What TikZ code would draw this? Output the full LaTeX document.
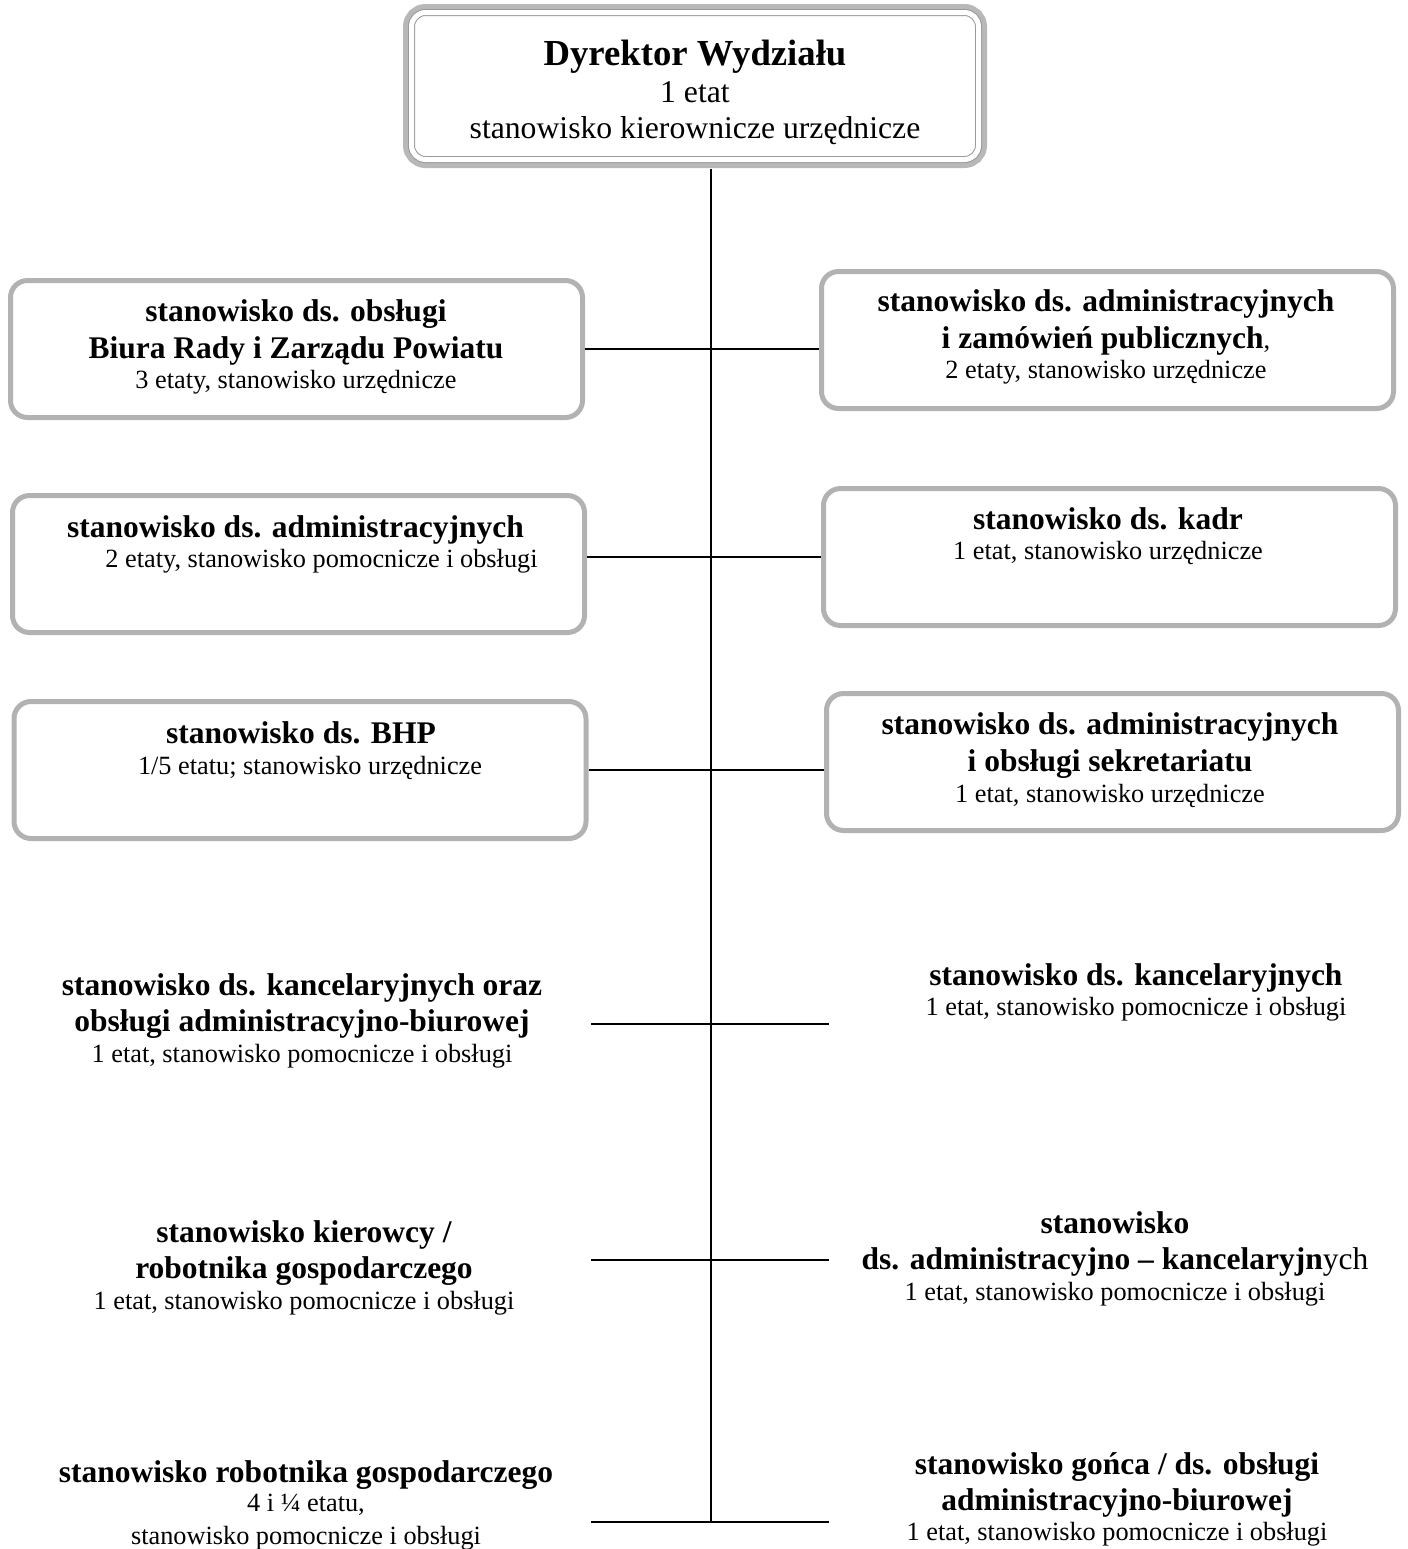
\documentclass[tikz,border=0pt]{standalone}
\usepackage{fontspec}
\setmainfont{Liberation Serif}
\usepackage{tikz}

\newcommand{\pogr}[1]{{\bfseries\fontsize{15.75}{18}\selectfont #1}}

\begin{document}
\begin{tikzpicture}[x=0.5pt, y=-0.5pt,
ramka/.style={draw=black!30, line width=2.5pt, rounded corners=8.5pt, fill=white, inner sep=0pt, minimum width=286pt, minimum height=68.5pt},
pusta/.style={inner sep=0pt, minimum width=286pt, minimum height=68.5pt},
glowna/.style={draw=black!40, line width=0.5pt, double=white, double distance=2.5pt, rounded corners=7pt, fill=white, preaction={draw=black!28, line width=8.5pt}, inner sep=0pt, minimum width=283.5pt, minimum height=73.5pt},
opis/.style={anchor=north, align=center, inner sep=0pt, font=\fontsize{13.15}{16.75}\selectfont},
linia/.style={line width=0.7pt}]

\useasboundingbox (0,0) rectangle (1408,1549);

\coordinate (dol) at (711,1522);

\node[glowna] (dyrektor) at (695,86) {};

\node[ramka] (biuro) at (296.5,349) {};
\node[ramka] (zamowienia) at (1107.5,340) {};
\node[ramka] (admin) at (298.5,564) {};
\node[ramka] (kadry) at (1109.5,557) {};
\node[ramka] (bhp) at (300,770) {};
\node[ramka] (sekretariat) at (1112.5,762) {};

\node[pusta] (kancelaria) at (305,1024) {};
\node[pusta] (kancel) at (1115,1024) {};
\node[pusta] (kierowca) at (305,1260) {};
\node[pusta] (adminkanc) at (1115,1260) {};
\node[pusta] (robotnik) at (305,1522) {};
\node[pusta] (goniec) at (1115,1522) {};


\draw[linia] (dyrektor.south -| dol) ++(0,8.5) -- (dol);

\draw[linia] (biuro.east) -- (biuro.east -| zamowienia.west);
\draw[linia] (kadry.west -| admin.east) -- (kadry.west);
\draw[linia] (bhp.east) -- (bhp.east -| sekretariat.west);
\draw[linia] (kancelaria.east) -- (kancel.west);
\draw[linia] (kierowca.east) -- (adminkanc.west);
\draw[linia] (robotnik.east) -- (goniec.west);


\node[opis, font=\fontsize{15.85}{17}\selectfont] (tdyrektor) at (695,40) {{\bfseries\fontsize{18.35}{20}\selectfont Dyrektor Wydziału}\\[1.5pt] 1 etat\\[1pt] stanowisko kierownicze urzędnicze};

\node[opis] (tbiuro) at (296,299.5) {\pogr{stanowisko ds. obsługi}\\[1.75pt] \pogr{Biura Rady i Zarządu Powiatu}\\[-1.75pt] 3 etaty, stanowisko urzędnicze};
\node[opis] (tzamowienia) at (1106,289.5) {\pogr{stanowisko ds. administracyjnych}\\[1.75pt] \pogr{i zamówień publicznych},\\[-1.75pt] 2 etaty, stanowisko urzędnicze};
\node[opis] (tadmin) at (295.5,515.5) {\pogr{stanowisko ds. administracyjnych}\\[-2pt] \hspace*{26pt}2 etaty, stanowisko pomocnicze i obsługi};
\node[opis] (tkadry) at (1108,507.5) {\pogr{stanowisko ds. kadr}\\[-2pt] 1 etat, stanowisko urzędnicze};
\node[opis] (tbhp) at (301,721.5) {\pogr{stanowisko ds. BHP}\\[-1.5pt] \hspace*{9pt}1/5 etatu; stanowisko urzędnicze};
\node[opis] (tsekretariat) at (1110,712.5) {\pogr{stanowisko ds. administracyjnych}\\[1.75pt] \pogr{i obsługi sekretariatu}\\[-1.25pt] 1 etat, stanowisko urzędnicze};

\node[opis] (tkancelaria) at (302,973.5) {\pogr{stanowisko ds. kancelaryjnych oraz}\\[1.25pt] \pogr{obsługi administracyjno-biurowej}\\[-1.5pt] 1 etat, stanowisko pomocnicze i obsługi};
\node[opis] (tkancel) at (1136,963.5) {\pogr{stanowisko ds. kancelaryjnych}\\[-1.75pt] 1 etat, stanowisko pomocnicze i obsługi};
\node[opis] (tkierowca) at (304,1220) {\pogr{stanowisko kierowcy /}\\[1.5pt] \pogr{robotnika gospodarczego}\\[-1.5pt] 1 etat, stanowisko pomocnicze i obsługi};
\node[opis] (tadminkanc) at (1115,1211.5) {\pogr{stanowisko}\\[1.25pt] \pogr{ds. administracyjno – kancelaryjn{\mdseries ych}}\\[-1.25pt] 1 etat, stanowisko pomocnicze i obsługi};
\node[opis] (trobotnik) at (306,1460) {\pogr{stanowisko robotnika gospodarczego}\\[-2pt] 4 i ¼ etatu,\\[-0.5pt] stanowisko pomocnicze i obsługi};
\node[opis] (tgoniec) at (1117,1452.5) {\pogr{stanowisko gońca / ds. obsługi}\\[1.25pt] \pogr{administracyjno-biurowej}\\[-2pt] 1 etat, stanowisko pomocnicze i obsługi};

\end{tikzpicture}
\end{document}
